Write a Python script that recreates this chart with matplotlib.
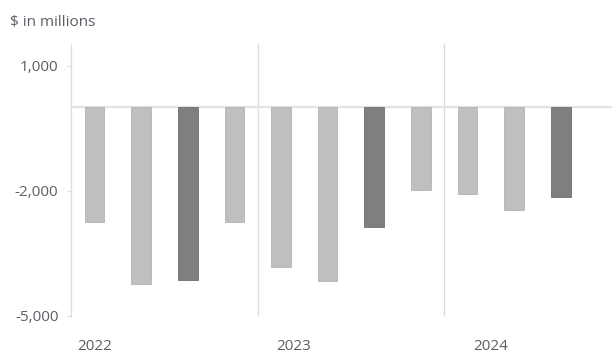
import matplotlib.pyplot as plt
import numpy as np

plt.rcParams['font.family'] = ['Open Sans', 'DejaVu Sans']

# quarterly values, $ in millions
quarters = ['Q1 2022', 'Q2 2022', 'Q3 2022', 'Q4 2022',
            'Q1 2023', 'Q2 2023', 'Q3 2023', 'Q4 2023',
            'Q1 2024', 'Q2 2024', 'Q3 2024']
values = [-2760, -4240, -4140, -2760,
          -3830, -4170, -2880, -1985,
          -2080, -2460, -2160]
highlight = [False, False, True, False,
             False, False, True, False,
             False, False, True]
years = ['2022', '2023', '2024']
year_label_pos = [0.0, 4.27, 8.5]
year_breaks = [3.5, 7.5]
yticks = [1000, -2000, -5000]

light = '#bfbfbf'
dark = '#7f7f7f'
txt = '#5a5f66'
line = '#dcdcdc'

fig = plt.figure(figsize=(6.12, 3.54), dpi=100)
ax = fig.add_axes([0.116, 0.108, 0.884, 0.768])

x = np.arange(len(quarters))
colors = [dark if h else light for h in highlight]
edges = ['#6f6f6f' if h else '#b3b3b3' for h in highlight]
ax.bar(x, values, width=0.42, color=colors, edgecolor=edges, linewidth=0.6, zorder=2)

ax.axhline(0, color='#e3e3e3', lw=1.6, zorder=1)
for b in year_breaks:
    ax.axvline(b, color=line, lw=0.9, zorder=0)

ax.set_xlim(-0.505, 11.1)
ax.set_ylim(-5000, 1520)

for s in ['top', 'right', 'bottom']:
    ax.spines[s].set_visible(False)
ax.spines['left'].set_color(line)
ax.spines['left'].set_linewidth(0.9)

ax.set_yticks(yticks)
ax.set_yticklabels([f'{v:,}' for v in yticks])
ax.tick_params(axis='y', length=3, color=line, labelcolor=txt, labelsize=11, pad=6)

ax.set_xticks(year_label_pos)
ax.set_xticklabels(years)
ax.tick_params(axis='x', length=0, labelcolor=txt, labelsize=11, pad=16.5)

fig.text(0.016, 0.937, '$ in millions', color=txt, fontsize=11, va='center', ha='left')

fig.savefig('out.png', dpi=100)
